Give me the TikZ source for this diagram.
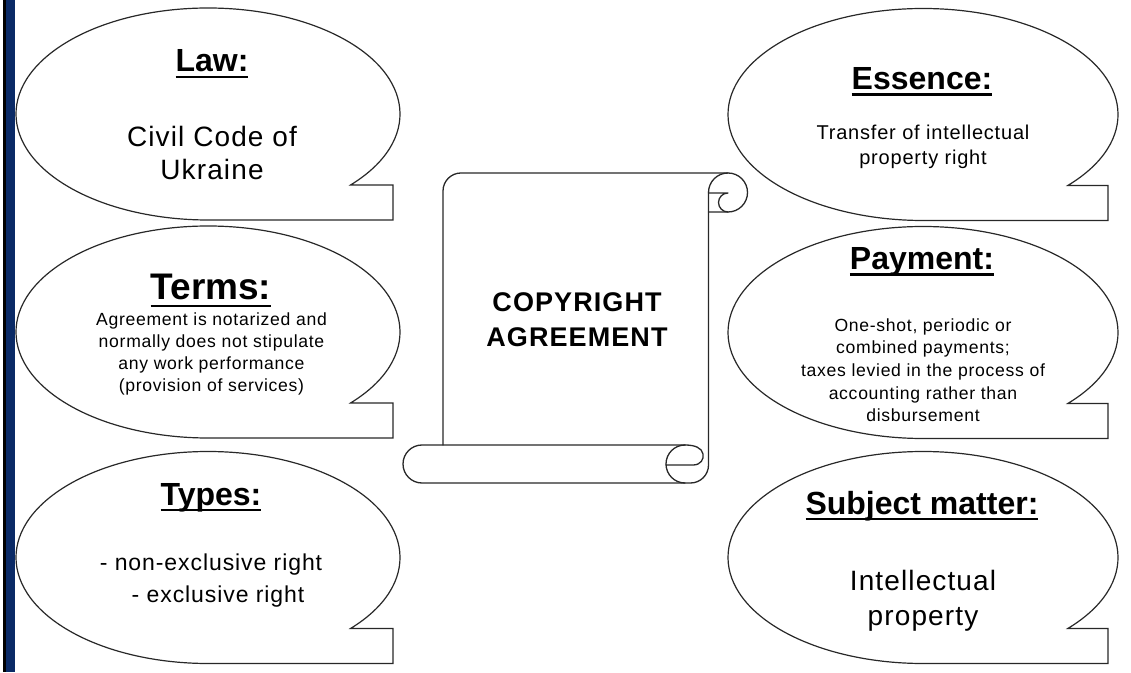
\documentclass[tikz,border=0pt]{standalone}
\usepackage{fontspec}
\setmainfont{Liberation Sans}
\newfontfamily\plainface[LetterSpace=4]{Liberation Sans}
\usetikzlibrary{calc}

\definecolor{slideblue}{RGB}{10,42,102}
\definecolor{inkline}{RGB}{40,40,40}

% heading text with a word-processor style underline
\newsavebox\ulinebox
\newcommand\ulword[1]{\sbox\ulinebox{#1}\rlap{\rule[-0.2em]{\wd\ulinebox}{0.075em}}\usebox\ulinebox}

\tikzset{
  bubble/.style={draw=inkline, line width=1.2pt, line join=miter},
  scrollline/.style={draw=inkline, line width=1.3pt, line join=round, line cap=round},
  heading/.style={anchor=base, inner sep=0pt, font=\fontsize{32}{36}\selectfont\bfseries},
  % multi-line text: the base anchor sits on the last line
  body/.style={anchor=base, inner sep=0pt, align=center},
}

% speech bubble: #1 name, #2 centre x, #3 centre y, #4 horizontal radius
\newcommand\callout[4]{%
  \coordinate (#1) at (#2,#3);
  \draw[bubble] ($(#1)+(-42:#4pt and 106pt)$) coordinate (#1-tail)
     arc[start angle=-42, end angle=270, x radius=#4pt, y radius=106pt]
     -- ++(185pt,0pt) |- (#1-tail) -- cycle;
}

\begin{document}
\begin{tikzpicture}[x=1pt,y=1pt]
\useasboundingbox (0,0) rectangle (1131,672);
\fill[white] (0,0) rectangle (1131,672);

% slide frame edge
\fill[black] (3,0) rectangle (6,672);
\fill[slideblue] (6,0) rectangle (15,672);

% bubbles, left column
\callout{law}{208}{558}{192}
\callout{terms}{208}{340}{192}
\callout{types}{208}{114.5}{192}
% bubbles, right column
\callout{essence}{923}{557.5}{195}
\callout{payment}{923}{339.5}{195}
\callout{subject}{923}{114.5}{195}

% scroll: sheet outline with the top roll
\draw[scrollline] (443,227) -- (443,481) arc[start angle=180,end angle=90,radius=18pt]
   -- (728,499) arc[start angle=90,end angle=-90,radius=19.5pt] -- (708.5,460);
\draw[scrollline] (708.5,479.5) arc[start angle=180,end angle=90,radius=19.5pt];
\draw[scrollline] (708.5,479) -- (728,479) arc[start angle=90,end angle=270,radius=9.5pt];
% right edge and the bottom roll
\draw[scrollline] (708.5,479.5) -- (708.5,207) arc[start angle=0,end angle=-90,radius=18pt]
   -- (422,189) arc[start angle=270,end angle=90,radius=19pt] -- (685,227);
% curl at the end of the bottom roll
\draw[scrollline] (685,189) arc[start angle=270,end angle=90,radius=19pt];
\draw[scrollline] (666,207) -- (693,207) .. controls (701,207) and (704,213) .. (703,218)
   .. controls (702,224) and (695,227) .. (685,227);

% scroll title
\node[body, font=\fontsize{27}{35}\selectfont\plainface\bfseries] (title) at (577,325)
  {COPYRIGHT\\AGREEMENT};

% left column texts
\node[heading] (lawhead) at (212,600.3) {\ulword{Law:}};
\node[body, font=\fontsize{28}{33}\selectfont\plainface] (lawtext) at (212,492)
  {Civil Code of\\Ukraine};

\node[heading, font=\fontsize{37}{40}\selectfont\bfseries] (termshead) at (211,372) {\ulword{Terms:}};
\node[body, font=\fontsize{17.6}{22}\selectfont\plainface] (termstext) at (211.5,280)
  {Agreement is notarized and\\normally does not stipulate\\any work performance\\(provision of services)};

\node[heading] (typeshead) at (211,167) {\ulword{Types:}};
\node[body, font=\fontsize{23}{32}\selectfont\plainface] (typestext) at (211,70)
  {- non-exclusive right\\\hspace{14pt}- exclusive right};

% right column texts
\node[heading] (essencehead) at (922,582.7) {\ulword{Essence:}};
\node[body, font=\fontsize{20}{25}\selectfont\plainface] (essencetext) at (923,507)
  {Transfer of intellectual\\property right};

\node[heading] (paymenthead) at (922,402.7) {\ulword{Payment:}};
\node[body, font=\fontsize{17.6}{22.7}\selectfont\plainface] (paymenttext) at (923,250)
  {One-shot, periodic or\\combined payments;\\taxes levied in the process of\\accounting rather than\\disbursement};

\node[heading] (subjecthead) at (922,158) {\ulword{Subject matter:}};
\node[body, font=\fontsize{28}{35.5}\selectfont\plainface] (subjecttext) at (923,46.3)
  {Intellectual\\property};
\end{tikzpicture}
\end{document}
